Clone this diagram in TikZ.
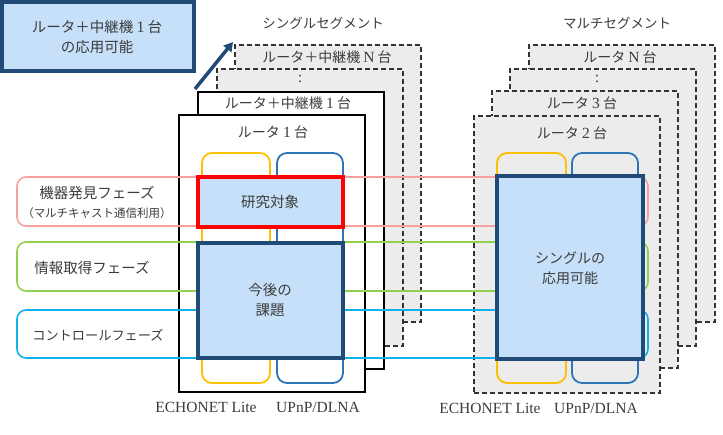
\documentclass[tikz,border=0pt]{standalone}
\usepackage{fontspec}
\setmainfont{Liberation Serif}
\newfontfamily\jpf{Noto Sans CJK JP}
\usetikzlibrary{arrows.meta}
\definecolor{lblue}{RGB}{197,224,248}
\definecolor{dblue}{RGB}{31,75,118}
\definecolor{bggray}{RGB}{236,236,236}
\definecolor{yel}{RGB}{255,192,0}
\definecolor{mblue}{RGB}{46,117,182}
\definecolor{pinkc}{RGB}{248,160,160}
\definecolor{greenc}{RGB}{146,208,80}
\definecolor{cyanc}{RGB}{20,176,235}
\definecolor{txt}{RGB}{60,60,60}
\newcommand\fsz[1]{\fontsize{#1}{#1}\selectfont}
\begin{document}
\begin{tikzpicture}[x=1pt,y=-1pt,
  every node/.style={inner sep=0pt,outer sep=0pt},
  base/.style={anchor=north west,minimum width=186pt,minimum height=277pt},
  grbox/.style={base,draw=black!80,fill=bggray,line width=1.3pt,dash pattern=on 5pt off 3pt},
  whbox/.style={base,draw=black,fill=white,line width=2pt},
  proto/.style={anchor=north west,rounded corners=10pt,line width=1.8pt,minimum height=230pt},
  band/.style={anchor=north west,rounded corners=9pt,line width=1.6pt,minimum width=631pt},
  hibox/.style={anchor=north west,fill=lblue,line width=4pt},
  lbl/.style={text=txt,font=\jpf\fsz{14pt}},
  lblp/.style={text=txt,font=\jpf\fsz{13.5pt}},
  eng/.style={text=txt,font=\fsz{15.5pt}},
  dig/.style={font=\rmfamily\fsz{16pt}}
]
\useasboundingbox (0,0) rectangle (723,434);
% single segment stacks
\node[grbox] (sN) at (235,45) {};
\node[grbox] (sD) at (217,69) {};
\node[whbox] (s1r) at (198,92) {};
\node[whbox] (s1) at (179,115) {};
% multi segment stacks
\node[grbox] (mN) at (529,45) {};
\node[grbox] (mD) at (510,69) {};
\node[grbox] (m3) at (492,91) {};
\node[grbox] (m2) at (474,116) {};
% protocol columns
\node[proto,draw=yel,minimum width=68pt] (sY) at (202,153) {};
\node[proto,draw=mblue,minimum width=66pt] (sB) at (277,153) {};
\node[proto,draw=yel,minimum width=69pt] (mY) at (497,153) {};
\node[proto,draw=mblue,minimum width=66pt] (mB) at (572,153) {};
% phase bands
\node[band,draw=pinkc,minimum height=49pt] (bP) at (17,177) {};
\node[band,draw=greenc,minimum height=49pt] (bG) at (17,242) {};
\node[band,draw=cyanc,minimum height=48pt] (bC) at (17,310) {};
% highlight boxes
\node[hibox,draw=red,minimum width=145pt,minimum height=50pt] (res) at (198,177) {};
\node[hibox,draw=dblue,minimum width=145pt,minimum height=115pt] (fut) at (198,243) {};
\node[hibox,draw=dblue,minimum width=146pt,minimum height=183pt] (app) at (497,176) {};
% texts
\node[lblp] (tSS) at (323,23) {シングルセグメント};
\node[lblp] (tMS) at (617,23) {マルチセグメント};
\node[lbl] (tsN) at (327,57) {ルータ＋中継機 {\rmfamily\fsz{15.5pt}N} 台};
\node[eng] (tsD) at (300,79) {:};
\node[lbl] (ts1r) at (288,103) {ルータ＋中継機 {\rmfamily\fsz{15.5pt}1} 台};
\node[lbl] (ts1) at (273,132) {ルータ {\rmfamily\fsz{15.5pt}1} 台};
\node[lbl] (tmN) at (620,57) {ルータ {\rmfamily\fsz{15.5pt}N} 台};
\node[eng] (tmD) at (597,79) {:};
\node[lbl] (tm3) at (582,103) {ルータ {\rmfamily\fsz{15.5pt}3} 台};
\node[lbl] (tm2) at (572,133) {ルータ {\rmfamily\fsz{15.5pt}2} 台};
\node[lbl,font=\jpf\fsz{14.5pt}] (tres) at (270,202) {研究対象};
\node[lbl,font=\jpf\fsz{14.5pt},align=center] (tfut) at (270,300) {今後の\\[6pt]課題};
\node[lbl,align=center] (tapp) at (570,268) {シングルの\\[6pt]応用可能};
\node[lbl,font=\jpf\fsz{14.5pt}] (tp1) at (97,193) {機器発見フェーズ};
\node[lbl,font=\jpf\fsz{11.5pt}] (tp1b) at (97,213) {（マルチキャスト通信利用）};
\node[lbl,font=\jpf\fsz{14.5pt}] (tp2) at (92,268) {情報取得フェーズ};
\node[lbl,font=\jpf\fsz{13.2pt}] (tp3) at (98,335) {コントロールフェーズ};
\node[eng] (e1) at (206,407) {ECHONET Lite};
\node[eng] (u1) at (318,407) {UPnP/DLNA};
\node[eng] (e2) at (490,408) {ECHONET Lite};
\node[eng] (u2) at (596,408) {UPnP/DLNA};
% top-left note
\node[anchor=north west,draw=dblue,fill=lblue,line width=4pt,minimum width=191.5pt,minimum height=68.5pt] (note) at (2,2) {};
\node[lbl,font=\jpf\fsz{14.5pt},align=center] (tnote) at (97,37) {ルータ＋中継機 {\rmfamily\fsz{16pt}1} 台\\[5pt]の応用可能};
\coordinate (aT) at (195,89);
\coordinate (aH) at (233,42);
\draw[dblue,line width=3.5pt,-{Triangle[length=9pt,width=10pt]}] (aT) -- (aH);
\end{tikzpicture}
\end{document}
